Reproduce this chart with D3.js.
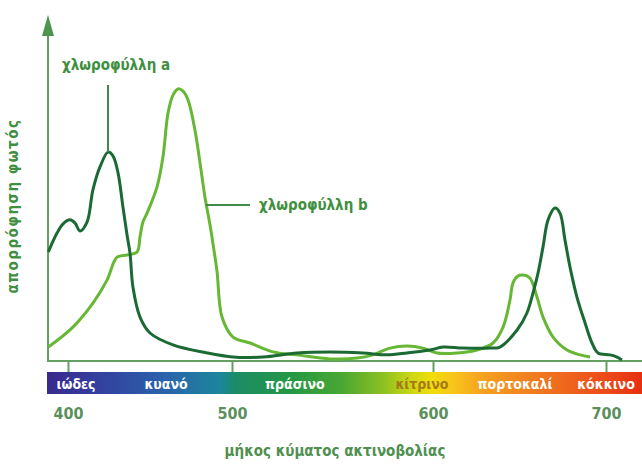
<!DOCTYPE html>
<html>
<head>
<meta charset="utf-8">
<script src="https://cdn.jsdelivr.net/npm/d3@7"></script>
<style>
  body { margin: 0; background: #fff; }
  svg { display: block; font-family: "DejaVu Sans Condensed", "DejaVu Sans", sans-serif; font-weight: bold; }
</style>
</head>
<body>
<svg id="chart" width="642" height="466"></svg>
<script>
// chlorophyll a absorption (wavelength nm, relative absorption)
const nmA = [388, 393.3, 397, 401.2, 404.3, 407.3, 411.6, 415.2, 419.5, 424.4, 427.4, 430.5, 433.5, 436, 437.8,
  439.6, 443.9, 450, 464, 484.8, 500.5, 515.4, 532.3, 548.8, 565.2, 577.1, 587.1, 598.5, 605.8, 617.3, 632.9,
  638.7, 648.6, 654.3, 657.8, 660.7, 663.6, 666.5, 670.5, 673.4, 676.3, 679.2, 683.2, 687.9, 691.9, 695.4,
  702.3, 706.4, 709.2];
const absA = [40, 47, 50.4, 51.9, 50.7, 47.8, 51.1, 63, 71.5, 77, 75.6, 69.3, 56.7, 46.3, 39.6,
  27, 15.9, 10, 5.6, 2.6, 1.1, 1.1, 2.6, 3, 2.6, 1.9, 2.6, 3.7, 4.8, 4.4, 4.4,
  4.8, 11.1, 17.4, 24.8, 32.2, 41.9, 51.9, 56.3, 54.4, 44.4, 34.4, 23.3, 13.7, 6.3, 2.6,
  1.9, 1.1, 0];

// chlorophyll b absorption
const nmB = [388, 403, 415.2, 423.8, 429.9, 436, 442.1, 443.9, 445.7, 448.2, 454.3, 457.9, 461, 464, 467.1,
  470.1, 473.2, 477.4, 480.5, 483.5, 486.6, 489, 490.9, 493.9, 500.5, 509, 520.4, 532.3, 548.8, 562.2,
  570.1, 578.6, 587.1, 595, 602.3, 613.9, 625.4, 634.7, 640.5, 644.5, 646.2, 649.1, 652, 656, 660.1,
  663.6, 669.4, 677.5, 685, 690.8];
const absB = [4.8, 12.2, 21.1, 29.6, 38.1, 38.9, 40, 45.6, 51.1, 54.4, 64.1, 75.2, 91.5, 98.1, 100.4,
  99.6, 96.3, 85.2, 73, 60.4, 50, 40.7, 32.6, 15.9, 8.5, 6.3, 3, 1.9, 0.4, 0.7,
  1.9, 4.4, 5.2, 4.4, 2.6, 2.6, 3.7, 6.3, 12.2, 22.2, 28.5, 31.1, 31.5, 30.4, 23.3,
  15.9, 8.5, 3.7, 1.9, 1.1];

const tickNm = [400, 500, 600, 700];
const tickPx = [68, 232, 433, 606]; // the printed axis is not evenly spaced

const bandNames = ['ιώδες', 'κυανό', 'πράσινο', 'κίτρινο', 'πορτοκαλί', 'κόκκινο'];
const bandNm = [404.9, 459.8, 531.3, 594.5, 647.4, 700];
const bandTextColors = ['#fff', '#fff', '#fff', '#a57a16', '#fff', '#fff'];

const spectrumNm = [388, 420, 460, 493, 502, 530, 555, 575, 590, 600, 612, 630, 660, 700, 720];
const spectrumColors = ['#3a2a8e', '#33419f', '#2a63ac', '#1b879c', '#1c8c66', '#259844', '#4aa732', '#8cc022',
  '#cfd812', '#f2dc0c', '#f8c41a', '#f5a020', '#f07a20', '#ec4a18', '#e63012'];

const labelA = 'χλωροφύλλη a';
const labelB = 'χλωροφύλλη b';
const xTitle = 'μήκος κύματος ακτινοβολίας';
const yTitle = 'απορρόφηση φωτός';

const darkGreen = '#1b6a34';
const lightGreen = '#66b834';
const axisGreen = '#62a062';
const textGreen = '#3f8f3f';

const svg = d3.select('#chart');
const axisX0 = 48, axisY0 = 361, bandTop = 372, bandH = 22, width = 642;

let x = d3.scaleLinear().domain(tickNm).range(tickPx);
let y = d3.scaleLinear().domain([0, 100]).range([360, 90]);

// colour band
let grad = svg.append('defs').append('linearGradient')
  .attr('id', 'spectrum')
  .attr('gradientUnits', 'userSpaceOnUse')
  .attr('x1', axisX0).attr('x2', width).attr('y1', 0).attr('y2', 0);

grad.selectAll('stop')
  .data(spectrumNm)
  .enter()
  .append('stop')
    .attr('offset', d => Math.max(0, Math.min(1, (x(d) - axisX0) / (width - axisX0))))
    .attr('stop-color', (d, i) => spectrumColors[i]);

svg.append('rect')
  .attr('x', axisX0 - 1).attr('y', bandTop)
  .attr('width', width - axisX0 + 1).attr('height', bandH)
  .attr('fill', 'url(#spectrum)');

svg.selectAll('.band-label')
  .data(bandNames)
  .enter()
  .append('text')
    .attr('class', 'band-label')
    .attr('x', (d, i) => x(bandNm[i]))
    .attr('y', 389)
    .attr('text-anchor', 'middle')
    .style('font-size', '14px')
    .attr('fill', (d, i) => bandTextColors[i])
    .text(d => d);

// x axis
let xAxis = d3.axisBottom(x)
  .tickValues(tickNm)
  .tickSize(bandTop - axisY0)
  .tickPadding(36);

let gx = svg.append('g')
  .attr('transform', 'translate(0,' + axisY0 + ')')
  .call(xAxis);

gx.select('.domain').remove();
gx.selectAll('line').attr('stroke', axisGreen).attr('stroke-width', 2);
gx.selectAll('text')
  .attr('fill', '#5b8f5b')
  .style('font-size', '16px')
  .style('font-family', '"DejaVu Sans Condensed", sans-serif')
  .style('font-weight', 'bold');

svg.append('line')
  .attr('x1', axisX0).attr('x2', width)
  .attr('y1', axisY0).attr('y2', axisY0)
  .attr('stroke', axisGreen).attr('stroke-width', 2);

// y axis with arrow
svg.append('line')
  .attr('x1', axisX0).attr('x2', axisX0)
  .attr('y1', axisY0 + 1).attr('y2', 30)
  .attr('stroke', axisGreen).attr('stroke-width', 2);

svg.append('path')
  .attr('d', d3.line()([[axisX0, 15], [axisX0 - 6, 36], [axisX0 + 6, 36]]) + 'Z')
  .attr('fill', '#4f9450');

// curves
let line = d3.line()
  .x(d => x(d[0]))
  .y(d => y(d[1]))
  .curve(d3.curveCatmullRom.alpha(0.5));

svg.append('path')
  .datum(d3.zip(nmB, absB))
  .attr('d', line)
  .attr('fill', 'none')
  .attr('stroke', lightGreen)
  .attr('stroke-width', 3);

svg.append('path')
  .datum(d3.zip(nmA, absA))
  .attr('d', line)
  .attr('fill', 'none')
  .attr('stroke', darkGreen)
  .attr('stroke-width', 3);

// annotations
let peakA = d3.maxIndex(absA);
svg.append('line')
  .attr('x1', x(nmA[peakA])).attr('x2', x(nmA[peakA]))
  .attr('y1', 85).attr('y2', y(absA[peakA]))
  .attr('stroke', '#3f8a48').attr('stroke-width', 2);

svg.append('text')
  .attr('x', 62).attr('y', 70)
  .attr('fill', textGreen)
  .style('font-size', '15px')
  .text(labelA);

svg.append('line')
  .attr('x1', x(484)).attr('x2', 250)
  .attr('y1', y(57.4)).attr('y2', y(57.4))
  .attr('stroke', '#3f8a48').attr('stroke-width', 2);

svg.append('text')
  .attr('x', 259).attr('y', 210)
  .attr('fill', textGreen)
  .style('font-size', '15px')
  .text(labelB);

// axis titles
svg.append('text')
  .attr('x', 335).attr('y', 456)
  .attr('text-anchor', 'middle')
  .attr('fill', '#4f8f4f')
  .style('font-size', '15px')
  .text(xTitle);

svg.append('text')
  .attr('transform', 'translate(18,206) rotate(-90)')
  .attr('text-anchor', 'middle')
  .attr('fill', textGreen)
  .style('font-size', '15px')
  .style('letter-spacing', '1.5px')
  .text(yTitle);
</script>
</body>
</html>
